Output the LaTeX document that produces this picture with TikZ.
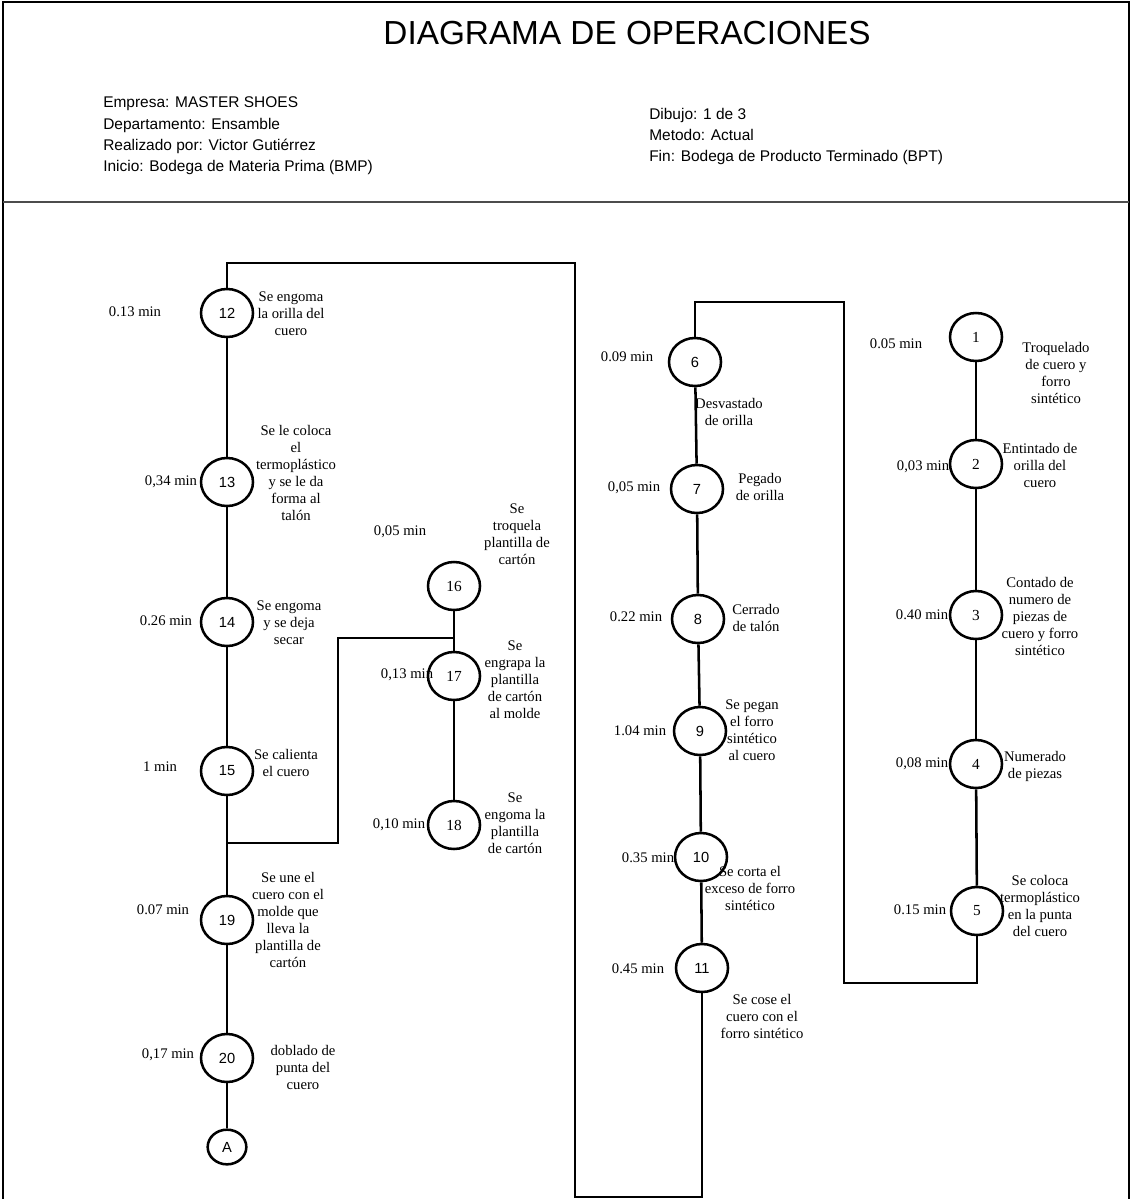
\documentclass[tikz,border=0pt]{standalone}
\usepackage{fontspec}
\setmainfont{Liberation Serif}
\setsansfont{Liberation Sans}
\usetikzlibrary{shapes.geometric}

\begin{document}
\begin{tikzpicture}[x=0.75pt,y=-0.75pt,
  op/.style={ellipse,draw,line width=1.9pt,inner sep=0pt,minimum width=39pt,minimum height=36pt},
  opsf/.style={op,font=\sffamily\fontsize{11}{13}\selectfont},
  oprm/.style={op,font=\fontsize{11.5}{13}\selectfont},
  endmark/.style={ellipse,draw,line width=1.9pt,inner sep=0pt,minimum width=29pt,minimum height=26pt,font=\sffamily\fontsize{11}{13}\selectfont},
  flow/.style={line width=1.9pt},
  link/.style={line width=0.8pt},
  desc/.style={align=center,font=\fontsize{11}{12.75}\selectfont,inner sep=0pt},
  tm/.style={font=\fontsize{11}{13}\selectfont,inner sep=0pt},
  head/.style={font=\sffamily\fontsize{11.6}{16}\selectfont,align=left,anchor=west,inner sep=0pt}
]
\useasboundingbox (0,0) rectangle (1131,1199);

% frame and header
\draw[line width=1.5pt] (3,1199) -- (3,2) -- (1129,2) -- (1129,1199);
\draw[line width=1.5pt,black!70] (3,202) -- (1129,202);
\node[font=\sffamily\fontsize{25}{30}\selectfont] (title) at (627,33) {DIAGRAMA DE OPERACIONES};
\node[head] (hleft) at (103,136) {Empresa: MASTER SHOES\\Departamento: Ensamble\\Realizado por: Victor Gutiérrez\\Inicio: Bodega de Materia Prima (BMP)};
\node[head] (hright) at (649,136.5) {Dibujo: 1 de 3\\Metodo: Actual\\Fin: Bodega de Producto Terminado (BPT)};

% column 1
\node[opsf] (n12) at (227,313) {12};
\node[opsf] (n13) at (227,482) {13};
\node[opsf] (n14) at (227,622) {14};
\node[opsf] (n15) at (227,771) {15};
\node[opsf] (n19) at (227,920) {19};
\node[opsf] (n20) at (227,1058) {20};
\node[endmark] (nA) at (227,1147) {A};

% column 2
\node[oprm] (n16) at (454,586) {16};
\node[oprm] (n17) at (454,676) {17};
\node[oprm] (n18) at (454,825) {18};

% column 3
\node[opsf] (n6) at (695,362) {6};
\node[opsf] (n7) at (697,489) {7};
\node[opsf] (n8) at (698,619) {8};
\node[opsf] (n9) at (700,731) {9};
\node[opsf] (n10) at (701,857) {10};
\node[opsf] (n11) at (702,968) {11};

% column 4
\node[oprm] (n1) at (976,337) {1};
\node[oprm] (n2) at (976,464) {2};
\node[oprm] (n3) at (976,615) {3};
\node[oprm] (n4) at (976,764) {4};
\node[oprm] (n5) at (977,911) {5};

% sequence lines
\draw[flow] (n12) -- (n13);
\draw[flow] (n13) -- (n14);
\draw[flow] (n14) -- (n15);
\draw[flow] (n15) -- (n19);
\draw[flow] (n19) -- (n20);
\draw[flow] (n20) -- (nA);
\draw[flow] (n16) -- (n17);
\draw[flow] (n17) -- (n18);
\draw[flow] (n6) -- (n7);
\draw[flow] (n7) -- (n8);
\draw[flow] (n8) -- (n9);
\draw[flow] (n9) -- (n10);
\draw[flow] (n10) -- (n11);
\draw[flow] (n1) -- (n2);
\draw[flow] (n2) -- (n3);
\draw[flow] (n3) -- (n4);
\draw[flow] (n4) -- (n5);

% transfers between columns
\coordinate (ka) at (227,263);
\coordinate (kb) at (575,263);
\coordinate (kc) at (575,1197);
\coordinate (kd) at (702,1197);
\draw[link] (n12.north) -- (ka) -- (kb) -- (kc) -- (kd) -- (n11.south);

\coordinate (ba) at (227,843);
\coordinate (bb) at (338,843);
\coordinate (bc) at (338,638);
\coordinate (bd) at (454,638);
\draw[link] (ba) -- (bb) -- (bc) -- (bd);

\coordinate (ra) at (695,302);
\coordinate (rb) at (844,302);
\coordinate (rc) at (844,983);
\coordinate (rd) at (977,983);
\draw[link] (n6.north) -- (ra) -- (rb) -- (rc) -- (rd) -- (n5.south);

% times
\node[tm] (t12) at (135,312) {0.13 min};
\node[tm] (t13) at (171,482) {0,34 min};
\node[tm] (t14) at (166,621) {0.26 min};
\node[tm] (t15) at (160,767) {1 min};
\node[tm] (t19) at (163,910) {0.07 min};
\node[tm] (t20) at (168,1055) {0,17 min};
\node[tm] (t16) at (400,532) {0,05 min};
\node[tm] (t17) at (407,675) {0,13 min};
\node[tm] (t18) at (399,825) {0,10 min};
\node[tm] (t6) at (627,357) {0.09 min};
\node[tm] (t7) at (634,488) {0,05 min};
\node[tm] (t8) at (636,617) {0.22 min};
\node[tm] (t9) at (640,731) {1.04 min};
\node[tm] (t10) at (648,858) {0.35 min};
\node[tm] (t11) at (638,969) {0.45 min};
\node[tm] (t1) at (896,344) {0.05 min};
\node[tm] (t2) at (923,467) {0,03 min};
\node[tm] (t3) at (922,615) {0.40 min};
\node[tm] (t4) at (922,764) {0,08 min};
\node[tm] (t5) at (920,910) {0.15 min};

% descriptions
\node[desc] (d12) at (291,314) {Se engoma\\la orilla del\\cuero};
\node[desc] (d13) at (296,473) {Se le coloca\\el\\termoplástico\\y se le da\\forma al\\talón};
\node[desc] (d14) at (289,623) {Se engoma\\y se deja\\secar};
\node[desc] (d15) at (286,763) {Se calienta\\el cuero};
\node[desc] (d19) at (288,920) {Se une el\\cuero con el\\molde que\\lleva la\\plantilla de\\cartón};
\node[desc] (d20) at (303,1067) {doblado de\\punta del\\cuero};
\node[desc] (d16) at (517,534) {Se\\troquela\\plantilla de\\cartón};
\node[desc] (d17) at (515,680) {Se\\engrapa la\\plantilla\\de cartón\\al molde};
\node[desc] (d18) at (515,823) {Se\\engoma la\\plantilla\\de cartón};
\node[desc] (d6) at (729,412) {Desvastado\\de orilla};
\node[desc] (d7) at (760,487) {Pegado\\de orilla};
\node[desc] (d8) at (756,618) {Cerrado\\de talón};
\node[desc] (d9) at (752,730) {Se pegan\\el forro\\sintético\\al cuero};
\node[desc] (d10) at (750,888) {Se corta el\\exceso de forro\\sintético};
\node[desc] (d11) at (762,1016) {Se cose el\\cuero con el\\forro sintético};
\node[desc] (d1) at (1056,373) {Troquelado\\de cuero y\\forro\\sintético};
\node[desc] (d2) at (1040,465) {Entintado de\\orilla del\\cuero};
\node[desc] (d3) at (1040,616) {Contado de\\numero de\\piezas de\\cuero y forro\\sintético};
\node[desc] (d4) at (1035,766) {Numerado\\de piezas};
\node[desc] (d5) at (1040,906) {Se coloca\\termoplástico\\en la punta\\del cuero};

\end{tikzpicture}
\end{document}
